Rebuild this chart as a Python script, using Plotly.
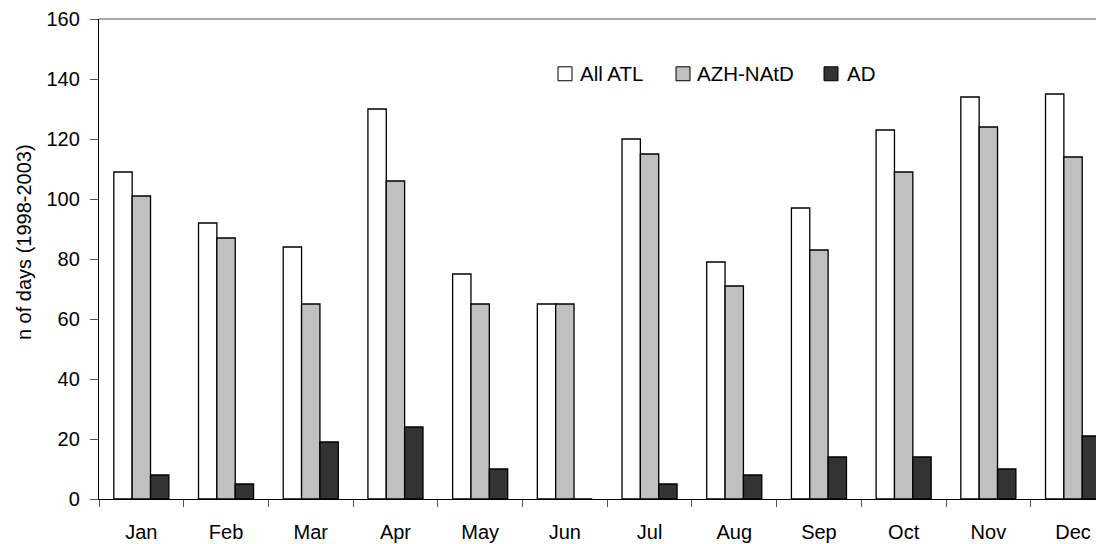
import plotly.graph_objects as go

months = ["Jan", "Feb", "Mar", "Apr", "May", "Jun", "Jul", "Aug", "Sep", "Oct", "Nov", "Dec"]
all_atl = [109, 92, 84, 130, 75, 65, 120, 79, 97, 123, 134, 135]
azh_natd = [101, 87, 65, 106, 65, 65, 115, 71, 83, 109, 124, 114]
ad = [8, 5, 19, 24, 10, 0, 5, 8, 14, 14, 10, 21]

series_names = ["All ATL", "AZH-NAtD", "AD"]
series_values = [all_atl, azh_natd, ad]
series_colors = ["#FFFFFF", "#C0C0C0", "#333333"]

FONT = "Arial, Liberation Sans, sans-serif"
OFF = 8  # page body margin
W, H = 1104 - OFF, 544 - OFF
# plot area in screen pixels
PX0, PX1, PY0, PY1 = 99, 1104, 17, 499
ML, MT = PX0 - OFF, PY0 - OFF
MR = W - (PX1 - OFF)
MB = H - (PY1 - OFF)
PW = W - ML - MR
PH = H - MT - MB

fig = go.Figure()
for name, vals, col in zip(series_names, series_values, series_colors):
    fig.add_trace(go.Bar(
        x=months, y=vals, name=name, showlegend=False,
        marker=dict(color=col, line=dict(color="#000000", width=1.3)),
    ))

def px_x(p):
    return (p - PX0) / PW

def px_y(p):
    return (PY1 - p) / PH

# custom legend
leg_sq = [558, 676, 824]
leg_tx = [578, 695, 845]
leg_y = 72
shapes = []
annotations = []
for name, col, sx, tx in zip(series_names, series_colors, leg_sq, leg_tx):
    shapes.append(dict(type="rect", xref="paper", yref="paper",
                       x0=px_x(sx), x1=px_x(sx + 14), y0=px_y(leg_y + 7), y1=px_y(leg_y - 7),
                       fillcolor=col, line=dict(color="#000000", width=1)))
    annotations.append(dict(text=name, xref="paper", yref="paper", x=px_x(tx), y=px_y(leg_y),
                            xanchor="left", yanchor="middle", showarrow=False,
                            font=dict(family=FONT, size=20.5, color="#000000")))

# top border line
shapes.append(dict(type="line", xref="paper", yref="paper", x0=0, x1=1, y0=1, y1=1,
                   line=dict(color="#888888", width=1.5)))

annotations.append(dict(text="n of days (1998-2003)", xref="paper", yref="paper",
                        x=px_x(24), y=px_y(241), textangle=-90, xanchor="center", yanchor="middle",
                        showarrow=False, font=dict(family=FONT, size=20, color="#000000")))

cat_w = 84.7
fig.update_layout(
    width=W, height=H,
    margin=dict(l=ML, r=MR, t=MT, b=MB, pad=0),
    paper_bgcolor="white", plot_bgcolor="white",
    barmode="group", bargap=0.35, bargroupgap=0,
    font=dict(family=FONT, size=20, color="#000000"),
    shapes=shapes, annotations=annotations,
    xaxis=dict(
        type="category", range=[-0.5, -0.5 + PW / cat_w],
        showline=True, linecolor="#000000", linewidth=1.3,
        ticks="outside", ticklen=7, tickcolor="#555555", tickwidth=1,
        tickson="boundaries", showgrid=False, zeroline=False,
        tickfont=dict(family=FONT, size=20, color="#000000"),
        ticklabelstandoff=15, ticklabeloverflow="allow",
    ),
    yaxis=dict(
        range=[0, 160], tickvals=[0, 20, 40, 60, 80, 100, 120, 140, 160],
        showline=True, linecolor="#000000", linewidth=1.3,
        ticks="outside", ticklen=8, tickcolor="#555555", tickwidth=1,
        showgrid=False, zeroline=False,
        tickfont=dict(family=FONT, size=20, color="#000000"),
        ticklabelstandoff=6, ticklabeloverflow="allow",
    ),
)

fig.write_html("out.html")
